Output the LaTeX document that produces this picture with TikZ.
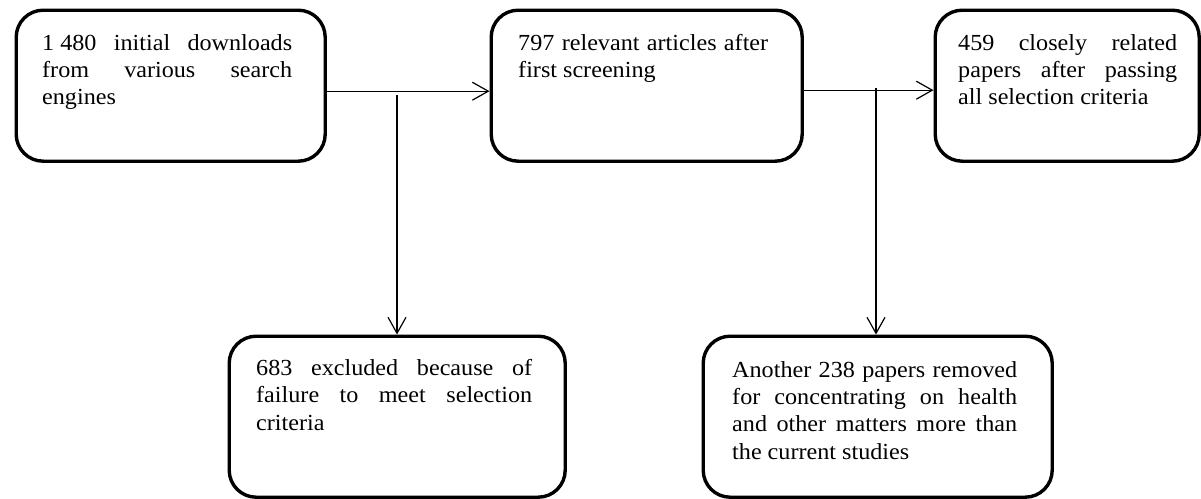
\documentclass[tikz,border=0pt]{standalone}
\usepackage{fontspec}
\usetikzlibrary{arrows.meta}
\newfontfamily\boxfont[FakeStretch=1.05]{Liberation Serif}
\hyphenpenalty=10000
\hbadness=10000
\begin{document}
\begin{tikzpicture}[x=1pt,y=-1pt,
  stage/.style={draw=black,line width=3.4pt,rounded corners=27pt,inner sep=0pt,anchor=north west},
  label/.style={inner sep=0pt,anchor=north west,align=justify,
    font=\boxfont\fontsize{23}{27.3}\selectfont},
  flow/.style={draw=black,line width=1.2pt,-{Straight Barb[length=16pt,width=18pt,line width=1.2pt]}}]
\useasboundingbox (0,0) rectangle (1201,498);

% top row of stages
\node[stage,minimum width=309pt,minimum height=151pt] (s1) at (14.5,8.5) {};
\node[stage,minimum width=311pt,minimum height=151pt] (s2) at (489.5,8.5) {};
\node[stage,minimum width=264pt,minimum height=151pt] (s3) at (933.5,8.5) {};
% exclusions
\node[stage,minimum width=336pt,minimum height=161pt] (x1) at (227.5,334.5) {};
\node[stage,minimum width=349pt,minimum height=161pt] (x2) at (701.5,334.5) {};

% box texts
\node[label,text width=250pt] (t1) at (42,34)
  {\hbox{1 480} initial downloads\linebreak from various search\linebreak engines};
\node[label,text width=250pt] (t2) at (518,34)
  {797 relevant articles after\linebreak first screening};
\node[label,text width=219pt] (t3) at (958,34)
  {459 closely related\linebreak papers after passing\linebreak all selection criteria};
\node[label,text width=276pt] (t4) at (256,359)
  {683 excluded because of\linebreak failure to meet selection\linebreak criteria};
\node[label,text width=285pt] (t5) at (732,361)
  {Another 238 papers removed\linebreak for concentrating on health\linebreak and other matters more than\linebreak the current studies};

% connectors
\draw[flow] ([yshift=-5.5pt]s1.east) -- ([yshift=-5.5pt]s2.west);
\draw[flow] ([yshift=-4.5pt]s2.east) -- ([yshift=-4.5pt]s3.west);
\coordinate (j1) at (397,95);
\coordinate (j2) at (876,88);
\draw[flow] (j1) -- (j1 |- x1.north);
\draw[flow] (j2) -- (j2 |- x2.north);
\end{tikzpicture}
\end{document}
